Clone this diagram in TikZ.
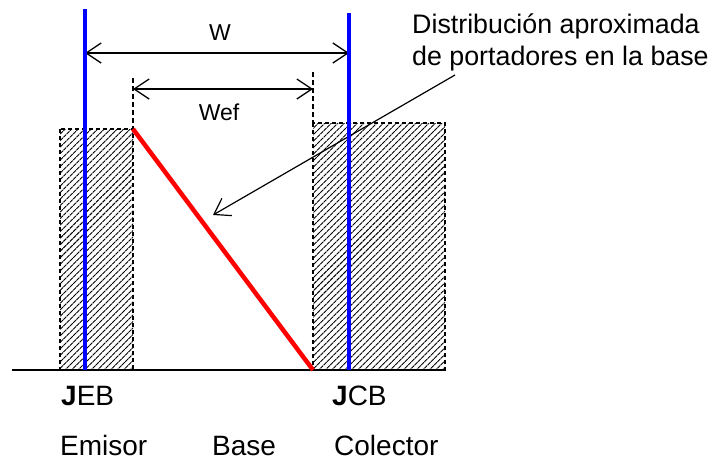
\documentclass[tikz,border=0pt]{standalone}
\usepackage{fontspec}
\setmainfont{Liberation Sans}
\usetikzlibrary{arrows.meta,patterns.meta}
\tikzset{
  region/.style={draw=black,dash pattern=on 4pt off 3pt,line width=1.2pt,
    pattern={Lines[angle=45,distance=4.6pt,line width=0.9pt]}},
  junction/.style={draw=blue,line width=4pt},
  barb/.tip={Straight Barb[length=15pt,width=20pt]},
  dimline/.style={draw=black,line width=1.3pt,barb-barb},
  guide/.style={draw=black,dash pattern=on 5pt off 3pt,line width=1.1pt},
  lbl/.style={font=\fontsize{28}{32}\selectfont,inner sep=0pt,anchor=base west},
  note/.style={font=\fontsize{26.8}{32}\selectfont,inner sep=0pt,anchor=base west},
  dimlbl/.style={font=\fontsize{23}{28}\selectfont,inner sep=0pt,anchor=base}
}
\begin{document}
\begin{tikzpicture}[x=1pt,y=-1pt]
\useasboundingbox (0,0) rectangle (712,461);
\draw[region] (60,129) rectangle (133,370);
\draw[region] (313,123) rectangle (445,370);
\draw[line width=1.5pt] (12,370) -- (446,370);
\coordinate (emL) at (85,9);
\coordinate (emB) at (85,370);
\coordinate (coL) at (349,13);
\coordinate (coB) at (349,370);
\coordinate (bL) at (133,129);
\coordinate (bR) at (313,370);
\coordinate (gL) at (133,78);
\coordinate (gR) at (313,72);
\coordinate (gRb) at (313,123);
\coordinate (ptr) at (455,75);
\coordinate (tip) at (213,215);
\draw[guide] (gL) -- (bL);
\draw[guide] (gR) -- (gRb);
\draw[dimline] (85,53) -- (349,53);
\draw[dimline] (133,89) -- (313,89);
\draw[line width=1.2pt,-barb] (ptr) -- (tip);
\draw[junction] (emL) -- (emB);
\draw[junction] (coL) -- (coB);
\draw[red,line width=4.5pt] (bL) -- (bR);
\node[dimlbl] (w) at (220,40) {W};
\node[dimlbl] (wef) at (219,120) {Wef};
\node[note] (dist1) at (412,33) {Distribución aproximada};
\node[note] (dist2) at (412,65) {de portadores en la base};
\node[lbl] (jeb) at (61,405) {\textbf{J}EB};
\node[lbl] (jcb) at (332,405) {\textbf{J}CB};
\node[lbl] (emisor) at (60,455) {Emisor};
\node[lbl] (base) at (212,455) {Base};
\node[lbl] (colector) at (334,455) {Colector};
\end{tikzpicture}
\end{document}
